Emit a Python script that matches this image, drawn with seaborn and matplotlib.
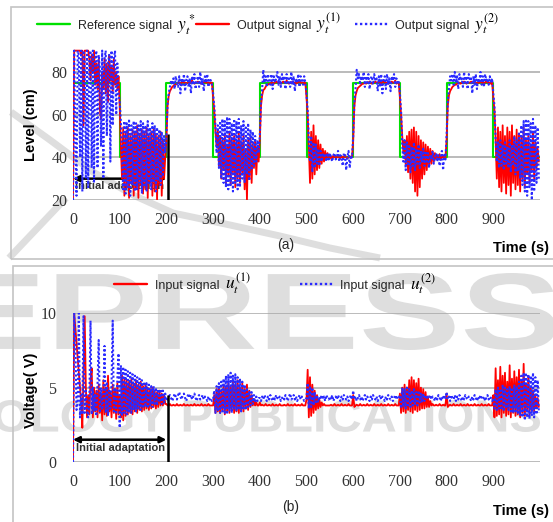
import numpy as np
import pandas as pd
import seaborn as sns
import matplotlib.pyplot as plt
from matplotlib.lines import Line2D
from matplotlib.patches import Rectangle, PathPatch
from matplotlib.textpath import TextPath
from matplotlib.font_manager import FontProperties
from matplotlib.transforms import Affine2D

# ---------------------------------------------------------------- data
# sampling instants of the recorded signals (s)
time_s = np.arange(0, 1000, 2.5)

# reference level set-points (step changes every 100 s)
ref_time = [0, 100, 200, 300, 400, 500, 600, 700, 800, 900, 1000]
ref_level = [75, 40, 75, 40, 75, 40, 75, 40, 75, 40, 40]

# tank level, controller 1 (cm) - one row per 50 s
level_y1 = [
    20, 90, 90, 90, 90, 90, 90, 88, 90, 55, 90, 90, 90, 90, 86, 76, 88, 80, 90, 74,
    84, 72, 86, 62, 58, 80, 72, 86, 70, 84, 66, 88, 76, 82, 70, 86, 74, 80, 72, 78,
    64, 45, 30, 54, 22, 52, 26, 54, 21, 50, 28, 53, 22, 52, 25, 55, 21, 51, 27, 53,
    23, 52, 25, 54, 21, 50, 28, 52, 22, 53, 24, 51, 20, 50, 27, 52, 22, 48, 30, 40,
    48, 64, 69, 71, 72, 73, 73.5, 74, 74, 74.5, 75, 75, 74.5, 75, 75.5, 75, 75, 74.5, 75, 75.5,
    75, 75, 76, 75, 74.5, 75, 75, 75.5, 75, 75, 74.5, 75, 75, 76, 75, 75, 75, 74.5, 75, 75,
    68, 62, 52, 45, 52, 36, 50, 30, 48, 34, 51, 28, 46, 32, 52, 27, 49, 33, 50, 26,
    48, 30, 52, 28, 47, 33, 50, 25, 44, 20, 48, 30, 50, 28, 46, 35, 48, 32, 45, 38,
    48, 64, 69, 71.5, 72, 73, 74, 74, 74.5, 74.5, 75, 75, 74.5, 75, 75.5, 75, 75, 75, 74.5, 75,
    75.5, 75, 75, 76, 75, 74.5, 75, 75, 75.5, 75, 75, 74.5, 75, 75, 76, 75, 75, 75, 74.5, 75,
    68, 60, 45, 28, 52, 30, 55, 32, 50, 34, 48, 35, 46, 37, 44, 38, 43, 39, 42, 40,
    41, 39.5, 40.5, 40, 41, 39.5, 40, 40.5, 40, 39.5, 40.5, 40, 40, 41, 40, 39.5, 40, 40.5, 40, 40,
    48, 64, 69, 71, 72.5, 73, 73.5, 74, 74.5, 74.5, 75, 74.5, 75, 75, 75.5, 75, 74.5, 75, 75, 75.5,
    75, 75, 75.5, 75, 74.5, 75, 76, 75, 75, 75, 74.5, 75, 75, 75.5, 75, 75, 76, 74.5, 75, 75,
    68, 60, 50, 42, 48, 36, 50, 33, 52, 30, 53, 28, 54, 24, 52, 22, 50, 26, 48, 30,
    47, 32, 46, 34, 45, 36, 44, 37, 43, 38, 42, 39, 41, 40, 41.5, 39, 40.5, 40, 41, 40,
    48, 64, 69, 71, 72, 73, 73.5, 74, 74, 74.5, 75, 75, 74.5, 75, 75, 75.5, 75, 74.5, 75, 75,
    75, 75.5, 75, 75, 76, 75, 74.5, 75, 75, 75.5, 75, 75, 74.5, 75, 76, 75, 75, 75, 74.5, 75,
    68, 62, 48, 30, 54, 26, 52, 24, 55, 28, 50, 23, 54, 27, 52, 22, 55, 28, 50, 25,
    53, 27, 51, 24, 50, 30, 54, 26, 48, 32, 50, 28, 46, 34, 52, 30, 47, 35, 44, 38,
]

# tank level, controller 2 (cm)
level_y2 = [
    20, 90, 50, 22, 90, 88, 40, 90, 24, 90, 85, 30, 90, 26, 88, 90, 35, 90, 28, 86,
    90, 35, 88, 82, 45, 90, 30, 86, 90, 50, 84, 88, 38, 90, 55, 86, 90, 60, 84, 70,
    66, 57, 40, 25, 57, 23, 56, 26, 58, 22, 55, 27, 57, 24, 56, 25, 55, 28, 57, 23,
    56, 26, 55, 24, 57, 27, 54, 25, 56, 28, 55, 24, 54, 29, 53, 27, 52, 31, 50, 42,
    50, 65, 70, 73, 76, 74, 77, 72, 78, 75, 73, 78, 70, 77, 74, 79, 71, 76, 78, 73,
    77, 70, 78, 74, 79, 72, 76, 78, 73, 80, 74, 77, 71, 78, 75, 79, 73, 77, 76, 74,
    70, 64, 55, 42, 55, 35, 57, 30, 58, 28, 57, 26, 59, 25, 58, 27, 56, 24, 58, 28,
    57, 25, 58, 26, 55, 30, 57, 28, 54, 32, 56, 29, 53, 34, 52, 36, 50, 38, 48, 42,
    50, 66, 72, 81, 75, 78, 73, 79, 76, 74, 79, 72, 78, 75, 77, 80, 74, 78, 73, 79,
    76, 78, 72, 79, 75, 77, 73, 80, 74, 78, 71, 77, 75, 79, 73, 78, 76, 74, 78, 75,
    70, 62, 48, 38, 50, 33, 47, 35, 46, 37, 44, 36, 43, 38, 42, 40, 41, 38, 42, 39,
    42, 40, 38, 41, 42, 39, 40, 43, 38, 41, 40, 36, 42, 41, 34, 40, 43, 35, 41, 40,
    50, 66, 72, 81, 77, 79, 74, 78, 76, 80, 73, 78, 75, 79, 72, 77, 78, 74, 79, 76,
    77, 71, 78, 73, 79, 70, 76, 78, 72, 79, 74, 77, 71, 78, 76, 79, 73, 77, 75, 76,
    70, 62, 46, 38, 48, 34, 47, 36, 46, 33, 45, 36, 47, 34, 44, 37, 46, 35, 43, 38,
    44, 36, 43, 38, 42, 35, 41, 39, 43, 37, 40, 42, 38, 41, 36, 40, 43, 34, 41, 39,
    50, 66, 72, 78, 76, 79, 74, 80, 75, 78, 72, 79, 76, 77, 73, 80, 75, 78, 72, 79,
    76, 77, 70, 78, 74, 79, 72, 77, 75, 80, 74, 78, 73, 79, 76, 77, 74, 78, 75, 77,
    70, 64, 48, 38, 47, 35, 48, 36, 46, 34, 47, 37, 45, 35, 48, 33, 46, 36, 50, 32,
    48, 34, 52, 30, 55, 27, 57, 24, 58, 22, 57, 26, 56, 20, 58, 24, 55, 28, 54, 30,
]

# pump voltage, controller 1 (V)
volt_u1 = [
    0, 10, 9, 8, 7, 6, 5, 4, 2.3, 6, 9.8, 5, 3, 4.5, 3.2, 5.5, 6.3, 3, 5, 3.4,
    4.8, 3, 5.2, 3.3, 4.6, 2.8, 5.5, 3.2, 5, 3.1, 5.8, 3.4, 4.7, 3, 5.2, 3.3, 4.9, 2.9, 5.3, 3.2,
    4.5, 3, 5.8, 2.8, 5.6, 3.1, 5.5, 3.2, 5.4, 3.3, 5.6, 3.2, 5.3, 3.4, 5.5, 3.3, 5.2, 3.5, 5.4, 3.4,
    5.1, 3.5, 5.2, 3.6, 5, 3.5, 4.9, 3.6, 5, 3.7, 4.8, 3.6, 4.7, 3.7, 4.8, 3.8, 4.6, 3.8, 4.5, 3.9,
    3.9, 3.8, 3.8, 3.9, 3.8, 3.8, 3.85, 3.8, 3.8, 3.9, 3.8, 3.8, 3.85, 3.8, 3.8, 3.9, 3.8, 3.8, 3.85, 3.8,
    3.8, 3.85, 3.8, 3.8, 3.9, 3.8, 3.8, 3.85, 3.8, 3.8, 3.9, 3.8, 3.8, 3.85, 3.8, 3.8, 3.9, 3.8, 3.8, 3.8,
    3.8, 4.5, 3.3, 4.9, 3.4, 5, 3.3, 4.8, 3.5, 5.2, 3.2, 5, 3.4, 5.3, 3.3, 5.1, 3.5, 5.4, 3.3, 5.2,
    3.4, 5.5, 3.3, 5, 3.5, 5.3, 3.4, 4.9, 3.6, 5.2, 3.5, 4.8, 3.7, 4.5, 3.8, 4.2, 3.8, 4, 3.8, 3.8,
    4.0, 3.8, 3.85, 3.8, 3.8, 3.9, 3.8, 3.8, 3.85, 3.8, 3.8, 3.9, 3.8, 3.8, 3.85, 3.8, 3.8, 3.9, 3.8, 3.8,
    3.8, 3.85, 3.8, 3.8, 3.9, 3.8, 3.8, 3.85, 3.8, 3.8, 3.9, 3.8, 3.8, 3.85, 3.8, 3.8, 3.9, 3.8, 3.8, 3.8,
    4.2, 6.2, 3, 5.7, 3.1, 5.2, 3.3, 4.8, 3.5, 4.5, 3.6, 4.2, 3.7, 4, 3.8, 3.9, 3.8, 3.8, 3.8, 3.8,
    3.8, 3.85, 3.8, 3.8, 3.9, 3.8, 3.8, 3.85, 3.8, 3.8, 3.9, 3.8, 3.8, 3.85, 3.8, 3.8, 3.9, 3.8, 3.8, 3.8,
    4.5, 3.7, 3.8, 3.85, 3.8, 3.8, 3.9, 3.8, 3.8, 3.85, 3.8, 3.8, 3.9, 3.8, 3.8, 3.85, 3.8, 3.8, 3.9, 3.8,
    3.8, 3.85, 3.8, 3.8, 3.9, 3.8, 3.8, 3.85, 3.8, 3.8, 3.9, 3.8, 3.8, 3.85, 3.8, 3.8, 3.9, 3.8, 3.8, 3.8,
    4.6, 3.3, 5, 3.4, 5.2, 3.3, 5, 3.5, 5.5, 3.4, 5.7, 3.3, 5.5, 3.5, 5.3, 3.4, 5.6, 3.5, 5, 3.6,
    4.9, 3.6, 4.7, 3.7, 4.4, 3.7, 4.1, 3.8, 3.9, 3.8, 3.8, 3.85, 3.8, 3.8, 3.9, 3.8, 3.8, 3.85, 3.8, 3.8,
    4.6, 3.7, 3.8, 3.85, 3.8, 3.8, 3.9, 3.8, 3.8, 3.85, 3.8, 3.8, 3.9, 3.8, 3.8, 3.85, 3.8, 3.8, 3.9, 3.8,
    3.8, 3.85, 3.8, 3.8, 3.9, 3.8, 3.8, 3.85, 3.8, 3.8, 3.9, 3.8, 3.8, 3.85, 3.8, 3.8, 3.9, 3.8, 3.8, 3.8,
    4.5, 3, 6.3, 3.1, 5.5, 3.2, 6.4, 3, 5.8, 3.3, 6, 3.1, 5.4, 3.2, 6.5, 3, 5.6, 3.3, 6.1, 3.1,
    5.7, 3.2, 6.2, 3, 5.5, 3.3, 6.6, 3.1, 5.2, 3.4, 5.8, 3.2, 5, 3.5, 4.8, 3.4, 4.5, 3.6, 4.3, 3.7,
]

# pump voltage, controller 2 (V)
volt_u2 = [
    0, 10, 8, 3.5, 4, 10, 3, 4.5, 3.2, 9.8, 3.3, 4.8, 3.5, 3, 4, 9.5, 3.2, 5, 3.4, 4.6,
    3.1, 5.2, 8.2, 3.3, 5, 3.5, 4.2, 7.8, 3.3, 5.4, 3.1, 4.8, 3.6, 5.2, 9.5, 3.4, 5, 3.2, 5.6, 7.3,
    2.3, 6.5, 3.1, 6.4, 3.3, 6.2, 3.2, 6.1, 3.4, 6, 3.3, 5.9, 3.5, 5.8, 3.4, 5.7, 3.6, 5.6, 3.5, 5.5,
    3.6, 5.4, 3.7, 5.3, 3.6, 5.2, 3.8, 5.1, 3.7, 5.1, 3.9, 5, 3.8, 4.9, 4, 4.9, 3.9, 4.8, 4, 4.6,
    4.1, 4.2, 4.4, 4.5, 4.3, 4.1, 4.3, 4.6, 4.4, 4.2, 4.5, 4.7, 4.4, 4.2, 4.5, 4.6, 4.3, 4.1, 4.4, 4.6,
    4.3, 4.5, 4.2, 4.4, 4.6, 4.3, 4.1, 4.4, 4.5, 4.2, 4.3, 4.5, 4.2, 4.4, 4.3, 4.1, 4.4, 4.2, 4.3, 4.1,
    4.2, 4.8, 3.3, 5.1, 3.4, 5.3, 3.3, 5.4, 3.4, 5.6, 3.3, 5.8, 3.2, 5.9, 3.4, 6, 3.3, 5.8, 3.5, 5.9,
    3.4, 5.7, 3.5, 5.6, 3.4, 5.4, 3.6, 5.2, 3.5, 5, 3.7, 4.8, 3.8, 4.7, 3.9, 4.5, 4, 4.4, 4.1, 4.3,
    4.3, 4.1, 4.4, 4.2, 4.5, 4.3, 4.1, 4.4, 4.2, 4.5, 4.3, 4.1, 4.4, 4.2, 4.5, 4.3, 4.2, 4.4, 4.1, 4.3,
    4.4, 4.2, 4.5, 4.3, 4.1, 4.4, 4.6, 4.2, 4.3, 4.5, 4.2, 4.4, 4.1, 4.3, 4.5, 4.2, 4.4, 4.3, 4.1, 4.2,
    4.3, 5.3, 3.6, 5.1, 3.7, 5, 3.8, 4.7, 3.9, 4.5, 4, 4.4, 4.2, 4.5, 4.2, 4.4, 4.1, 4.5, 4.3, 4.2,
    4.4, 4.2, 4.5, 4.1, 4.3, 4.4, 4.2, 4.5, 4.3, 4.1, 4.4, 4.2, 4.5, 4.3, 4.2, 4.4, 4.1, 4.3, 4.5, 4.2,
    4.8, 4.2, 4.4, 4.1, 4.3, 4.5, 4.2, 4.4, 4.1, 4.3, 4.5, 4.2, 4.4, 4.3, 4.1, 4.4, 4.2, 4.5, 4.3, 4.2,
    4.4, 4.1, 4.3, 4.5, 4.2, 4.4, 4.3, 4.1, 4.4, 4.2, 4.5, 4.3, 4.2, 4.4, 4.1, 4.3, 4.5, 4.2, 4.4, 4.3,
    4.5, 3.6, 5, 3.7, 4.9, 3.6, 5, 3.8, 4.9, 3.7, 4.8, 3.8, 4.9, 3.9, 4.7, 3.8, 4.8, 4, 4.6, 4,
    4.6, 4.1, 4.5, 4.2, 4.4, 4.3, 4.5, 4.2, 4.4, 4.3, 4.1, 4.4, 4.2, 4.5, 4.3, 4.1, 4.4, 4.2, 4.5, 4.3,
    4.7, 4.2, 4.4, 4.1, 4.5, 4.3, 4.2, 4.5, 4.1, 4.4, 4.2, 4.5, 4.3, 4.1, 4.4, 4.2, 4.5, 4.3, 4.2, 4.4,
    4.3, 4.1, 4.4, 4.2, 4.5, 4.3, 4.1, 4.4, 4.2, 4.5, 4.3, 4.2, 4.4, 4.1, 4.3, 4.5, 4.2, 4.4, 4.3, 4.1,
    4.3, 3.6, 4.9, 3.5, 5, 3.6, 4.8, 3.5, 5.2, 3.4, 5, 3.6, 4.9, 3.5, 5.1, 3.4, 5, 3.3, 5.2, 3.4,
    5.1, 3.3, 5.4, 3.1, 5.8, 3, 6, 2.8, 6, 3, 5.9, 2.9, 5.8, 3.1, 6, 3, 5.7, 3.2, 5.5, 3.3,
]

xtick_values = list(range(0, 1000, 100))
xtick_labels = [str(v) for v in xtick_values]
level_ticks = [20, 40, 60, 80]
volt_ticks = [0, 5, 10]

# ---------------------------------------------------------------- style
sns.set_theme(style="white")
plt.rcParams["font.family"] = ["Liberation Sans", "DejaVu Sans"]
plt.rcParams["mathtext.fontset"] = "stix"

RED = "#ff0000"
BLUE = "#2a2aff"
GREEN = "#00e000"
GRID = "#a8a8a8"
TXT = "#262626"
WM = "#dedede"
DOT = (0, (1, 1.1))

W, H = 553, 522
fig = plt.figure(figsize=(W / 100, H / 100), dpi=100)
fig.patch.set_facecolor("white")


def fx(px):
    return px / W


def fy(py):
    return 1 - py / H


def banner(text, x0, x1, ytop, ybot):
    """Light publisher banner lettering stretched into a pixel box."""
    tp = TextPath((0, 0), text, size=1,
                  prop=FontProperties(family="Liberation Sans", weight="bold"))
    ext = tp.get_extents()
    tr = (Affine2D().translate(-ext.x0, -ext.y0)
          .scale((x1 - x0) / ext.width / W, (ybot - ytop) / ext.height / H)
          .translate(fx(x0), fy(ybot)))
    fig.add_artist(PathPatch(tr.transform_path(tp), transform=fig.transFigure,
                             facecolor=WM, edgecolor="none", zorder=-5))


banner("EPRESS", -45, 556, 273, 350)
banner("TECHNOLOGY PUBLICATIONS", -175, 540, 400, 432)

# banner swoosh across panel (a)
swoosh_x = [11, 50, 93, 133, 173, 230, 280, 330, 380]
swoosh_y = [112, 140, 172, 195, 213, 225, 236, 248, 258]
fig.add_artist(Line2D([fx(v) for v in swoosh_x], [fy(v) for v in swoosh_y],
                      transform=fig.transFigure, color=WM, lw=5,
                      solid_capstyle="butt", zorder=-5))
fig.add_artist(Line2D([fx(9), fx(66)], [fy(258), fy(198)],
                      transform=fig.transFigure, color=WM, lw=5,
                      solid_capstyle="butt", zorder=-5))

# chart-area frames
for top, bottom, left in [(7, 259, 11), (266, 530, 13)]:
    fig.add_artist(Rectangle((fx(left), fy(bottom)), fx(W + 10) - fx(left),
                             fy(top) - fy(bottom), transform=fig.transFigure,
                             fill=False, edgecolor="#c4c4c4", lw=1.2, zorder=-4))

ax1 = fig.add_axes([fx(73), fy(200), fx(540) - fx(73), fy(48.5) - fy(200)])
ax2 = fig.add_axes([fx(73), fy(462), fx(540) - fx(73), fy(312.5) - fy(462)])

df_level = pd.DataFrame({"t": time_s, "y1": level_y1, "y2": level_y2})
df_volt = pd.DataFrame({"t": time_s, "u1": volt_u1, "u2": volt_u2})
df_ref = pd.DataFrame({"t": ref_time, "r": ref_level})

# ---- (a) tank level
sns.lineplot(data=df_ref, x="t", y="r", ax=ax1, color=GREEN, lw=1.5,
             drawstyle="steps-post", zorder=2)
sns.lineplot(data=df_level, x="t", y="y1", ax=ax1, color=RED, lw=1.3, zorder=3)
sns.lineplot(data=df_level, x="t", y="y2", ax=ax1, color=BLUE, lw=1.5,
             linestyle=DOT, zorder=4)
ax1.set_ylim(20, 91)
ax1.set_yticks(level_ticks)
ax1.set_yticklabels([str(v) for v in level_ticks])

# ---- (b) pump voltage
sns.lineplot(data=df_volt, x="t", y="u1", ax=ax2, color=RED, lw=1.3, zorder=3)
sns.lineplot(data=df_volt, x="t", y="u2", ax=ax2, color=BLUE, lw=1.5,
             linestyle=DOT, zorder=4)
ax2.set_ylim(0, 10.05)
ax2.set_yticks(volt_ticks)
ax2.set_yticklabels([str(v) for v in volt_ticks])

for ax, ypad in [(ax1, 4), (ax2, 12)]:
    ax.set_xlim(0, 1000)
    ax.set_xticks(xtick_values)
    ax.set_xticklabels(xtick_labels)
    ax.set_xlabel("")
    ax.set_ylabel("")
    ax.set_facecolor("none")
    for s in ax.spines.values():
        s.set_visible(False)
    ax.yaxis.grid(True, color=GRID, lw=1.1, zorder=0)
    ax.xaxis.grid(False)
    ax.set_axisbelow(True)
    ax.tick_params(axis="x", length=0, pad=9, labelsize=11.5, labelcolor="#333333")
    ax.tick_params(axis="y", length=0, pad=ypad, labelsize=11.5, labelcolor="#333333")
    for lab in ax.get_xticklabels() + ax.get_yticklabels():
        lab.set_fontfamily("Liberation Serif")

# initial adaptation markers
arrow = dict(arrowstyle="<|-|>", color="black", lw=1.8, mutation_scale=9,
             shrinkA=0, shrinkB=0)
ax1.annotate("", xy=(0, 30), xytext=(200, 30), arrowprops=arrow, zorder=1)
ax1.vlines(204, 20, 51, color="black", lw=1.8, zorder=1)
ax1.text(100, 26.6, "Initial adaptation", ha="center", va="center",
         fontsize=8, fontweight="bold", color="#333333", zorder=1)

ax2.annotate("", xy=(0, 1.5), xytext=(200, 1.5), arrowprops=arrow, zorder=5)
ax2.vlines(204, 0, 4.5, color="black", lw=1.8, zorder=5)
ax2.text(101, 0.92, "Initial adaptation", ha="center", va="center",
         fontsize=8, fontweight="bold", color="#333333", zorder=5)

# axis titles and panel tags
fig.text(fx(31), fy(125), "Level (cm)", rotation=90, ha="center", va="center",
         fontsize=10.5, fontweight="bold", color="black")
fig.text(fx(31), fy(390), "Voltage( V)", rotation=90, ha="center", va="center",
         fontsize=10.5, fontweight="bold", color="black")
fig.text(fx(286), fy(245), "(a)", ha="center", va="center", fontsize=10, color=TXT)
fig.text(fx(291), fy(507), "(b)", ha="center", va="center", fontsize=10, color=TXT)
fig.text(fx(549), fy(248), "Time (s)", ha="right", va="center", fontsize=10.5,
         fontweight="bold", color="black")
fig.text(fx(549), fy(511), "Time (s)", ha="right", va="center", fontsize=10.5,
         fontweight="bold", color="black")

# legends: sample line, caption and symbol right after the caption
renderer = fig.canvas.get_renderer()


def legend_entry(color, style, x_line, x_text, caption, symbol, y):
    fig.add_artist(Line2D([fx(x_line), fx(x_line + 33)], [fy(y - 1), fy(y - 1)],
                          transform=fig.transFigure, color=color, lw=1.7,
                          linestyle=style))
    cap = fig.text(fx(x_text), fy(y + 4), caption, ha="left", va="baseline",
                   fontsize=9, color=TXT)
    x_end = cap.get_window_extent(renderer).x1
    fig.text((x_end + 5) / W, fy(y + 4.5), symbol, ha="left", va="baseline",
             fontsize=12.5, color="black")


legend_entry(GREEN, "-", 37, 78, "Reference signal", r"$y_t^*$", 25)
legend_entry(RED, "-", 196, 237, "Output signal", r"$y_t^{(1)}$", 25)
legend_entry(BLUE, DOT, 355, 395, "Output signal", r"$y_t^{(2)}$", 25)
legend_entry(RED, "-", 114, 155, "Input signal", r"$u_t^{(1)}$", 285)
legend_entry(BLUE, DOT, 300, 340, "Input signal", r"$u_t^{(2)}$", 285)

fig.savefig("out.png", dpi=100)
